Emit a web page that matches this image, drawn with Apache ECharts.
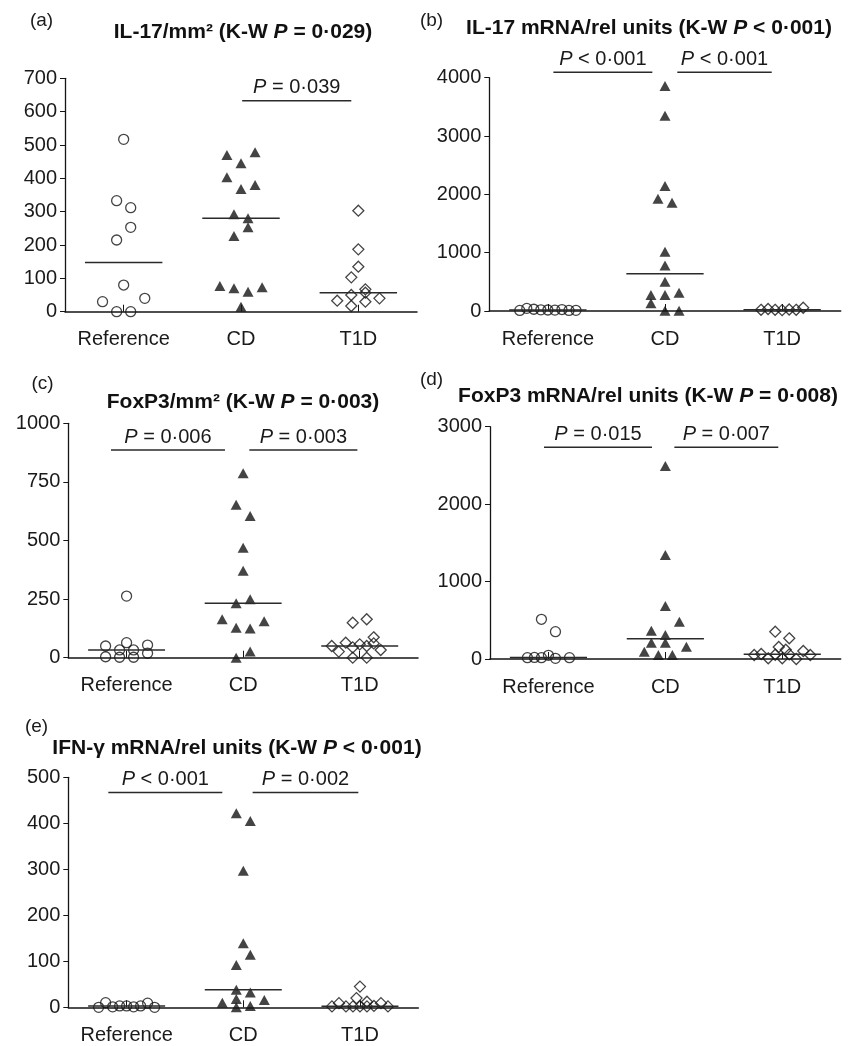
<!DOCTYPE html>
<html>
<head>
<meta charset="utf-8">
<script src="https://cdn.jsdelivr.net/npm/echarts@6/dist/echarts.min.js"></script>
<style>
  html, body { margin: 0; background: #fff; }
  #main { width: 850px; height: 1046px; }
</style>
</head>
<body>
<div id="main"></div>
<script>
// groups on the x axis
const groups = ['Reference', 'CD', 'T1D'];

// (a) IL-17/mm2 — values and jitter slots (side-by-side position of overlapping points)
const aRef = [517, 333, 312, 253, 215, 80, 30, 40, 0, 0];
const aRefJ = [0, -1, 1, 1, -1, 0, -3, 3, -1, 1];
const aCD = [470, 478, 445, 403, 380, 368, 292, 280, 253, 227, 77, 70, 60, 73, 15];
const aCDJ = [-2, 2, 0, -2, 2, 0, -1, 1, 1, -1, -3, -1, 1, 3, 0];
const aT1D = [303, 187, 135, 103, 67, 57, 50, 33, 30, 40, 17];
const aT1DJ = [0, 0, 0, -1, 1, 1, -1, -3, 1, 3, -1];

// (b) IL-17 mRNA
const bRef = [10, 45, 30, 20, 17, 15, 25, 10, 12];
const bRefJ = [-4, -3, -2, -1, 0, 1, 2, 3, 4];
const bCD = [3857, 3349, 2143, 1926, 1857, 1017, 780, 500, 274, 274, 314, 131, 5, 5];
const bCDJ = [0, 0, 0, -1, 1, 0, 0, 0, -2, 0, 2, -2, 0, 2];
const bT1D = [20, 35, 20, 15, 25, 20, 55];
const bT1DJ = [-3, -2, -1, 0, 1, 2, 3];

// (c) FoxP3/mm2
const cRef = [263, 64, 50, 4, 33, 2, 33, 2, 54, 19];
const cRefJ = [0, 0, -3, -3, -1, -1, 1, 1, 3, 3];
const cCD = [787, 652, 605, 469, 371, 232, 249, 164, 156, 128, 125, 26, 0];
const cCDJ = [0, -1, 1, 0, 0, -1, 1, -3, 3, -1, 1, 1, -1];
const cT1D = [149, 164, 87, 64, 57, 50, 61, 26, 33, 0, 0, 44, 50];
const cT1DJ = [-1, 1, 2, -2, 0, -4, 2, -3, 3, -1, 1, -1, 1];

// (d) FoxP3 mRNA
const dRef = [513, 353, 17, 20, 17, 47, 9, 17];
const dRefJ = [-1, 1, -3, -2, -1, 0, 1, 3];
const dCD = [2493, 1343, 684, 482, 366, 310, 211, 211, 159, 94, 52, 52];
const dCDJ = [0, 0, 0, 2, -2, 0, -2, 0, 3, -3, -1, 1];
const dT1D = [353, 267, 155, 120, 65, 52, 55, 60, 103, 52, 9, 9, 0];
const dT1DJ = [-1, 1, -0.5, 0.5, -3, -4, -1, 1, 3, 4, -2, 0, 2];

// (e) IFN-gamma mRNA
const eRef = [0, 10, 1, 3, 3, 1, 3, 9, 0];
const eRefJ = [-4, -3, -2, -1, 0, 1, 2, 3, 4];
const eCD = [422, 405, 297, 139, 114, 92, 38, 32, 18, 10, 16, 3, 0];
const eCDJ = [-1, 1, 0, 0, 1, -1, -1, 1, -1, -3, 3, 1, -1];
const eT1D = [45, 20, 12, 2, 9, 2, 2, 2, 2, 3, 9, 2];
const eT1DJ = [0, -0.5, 1, -4, -3, -2, -1, 0, 1, 2, 3, 4];

// y axis ranges
const yMax = [700, 4000, 1000, 3000, 500];
const yStep = [100, 1000, 250, 1000, 100];

// pairwise tests: [from, to, height, text]
const aTests = [[1.51, 2.44, 633, '= 0·039']];
const bTests = [[0.547, 1.392, 4092, '< 0·001'], [1.605, 2.411, 4092, '< 0·001']];
const cTests = [[0.366, 1.344, 886, '= 0·006'], [1.553, 2.48, 886, '= 0·003']];
const dTests = [[0.462, 1.386, 2734, '= 0·015'], [1.577, 2.466, 2734, '= 0·007']];
const eTests = [[0.343, 1.32, 467, '< 0·001'], [1.58, 2.486, 467, '= 0·002']];

const titles = [
  'IL-17/mm² (K-W {i|P} = 0·029)',
  'IL-17 mRNA/rel units (K-W {i|P} < 0·001)',
  'FoxP3/mm² (K-W {i|P} = 0·003)',
  'FoxP3 mRNA/rel units (K-W {i|P} = 0·008)',
  'IFN-γ mRNA/rel units (K-W {i|P} < 0·001)'
];
const letters = ['(a)', '(b)', '(c)', '(d)', '(e)'];

const panels = [
  { sets: [[aRef, aRefJ], [aCD, aCDJ], [aT1D, aT1DJ]], tests: aTests },
  { sets: [[bRef, bRefJ], [bCD, bCDJ], [bT1D, bT1DJ]], tests: bTests },
  { sets: [[cRef, cRefJ], [cCD, cCDJ], [cT1D, cT1DJ]], tests: cTests },
  { sets: [[dRef, dRefJ], [dCD, dCDJ], [dT1D, dT1DJ]], tests: dTests },
  { sets: [[eRef, eRefJ], [eCD, eCDJ], [eT1D, eT1DJ]], tests: eTests }
];

// layout
const FONT = '"Liberation Sans", Arial, Helvetica, sans-serif';
const INK = '#151515';
const STEP = 0.06;      // one jitter slot, in group units
const HALF = 0.33;      // half width of the median bar
const gridBoxes = [
  { left: 65, top: 78.3, width: 352, height: 233.4 },
  { left: 489.3, top: 77.7, width: 351.4, height: 233.3 },
  { left: 68.3, top: 423.3, width: 349.7, height: 234.4 },
  { left: 490, top: 426.7, width: 350.7, height: 232.3 },
  { left: 68.3, top: 777.3, width: 350, height: 230 }
];
const titlePos = [[243, 32.5], [649, 28.5], [243, 402.5], [648, 396], [237, 748.5]];
const letterPos = [[41.5, 21], [431.5, 20.5], [42.5, 383.5], [431.5, 380], [36.5, 726.5]];

const symbols = [
  { symbol: 'circle', symbolSize: 10, itemStyle: { color: 'rgba(0,0,0,0)', borderColor: INK, borderWidth: 1.3 } },
  { symbol: 'triangle', symbolSize: [11, 10], itemStyle: { color: INK } },
  { symbol: 'diamond', symbolSize: [11, 11], itemStyle: { color: 'rgba(0,0,0,0)', borderColor: INK, borderWidth: 1.3 } }
];

function median(arr) {
  const s = arr.slice().sort((x, y) => x - y);
  const m = Math.floor(s.length / 2);
  return s.length % 2 ? s[m] : (s[m - 1] + s[m]) / 2;
}

const grid = [], xAxis = [], yAxis = [], series = [], graphic = [];

panels.forEach((p, i) => {
  grid.push(gridBoxes[i]);
  xAxis.push({ type: 'value', gridIndex: i, min: 0, max: 3, show: false, position: 'top' });
  xAxis.push({
    type: 'category', gridIndex: i, data: groups, position: 'bottom',
    axisLine: { lineStyle: { color: INK, width: 1.5 } },
    axisTick: { show: true, alignWithLabel: true, inside: true, length: 7, lineStyle: { color: INK } },
    axisLabel: { fontSize: 20, color: '#1a1a1a', margin: 18, interval: 0, fontFamily: FONT }
  });
  yAxis.push({
    type: 'value', gridIndex: i, min: 0, max: yMax[i], interval: yStep[i],
    axisLine: { show: true, lineStyle: { color: INK, width: 1.3 } },
    axisTick: { show: true, length: 5, lineStyle: { color: INK } },
    axisLabel: { fontSize: 20, color: '#1a1a1a', margin: 8, fontFamily: FONT, formatter: v => String(v) },
    splitLine: { show: false }
  });

  p.sets.forEach(([vals, jit], g) => {
    series.push(Object.assign({
      type: 'scatter', name: groups[g], xAxisIndex: 2 * i, yAxisIndex: i,
      clip: false, silent: true, z: 3,
      data: vals.map((v, k) => [g + 0.5 + jit[k] * STEP, v])
    }, symbols[g]));
  });

  // medians and test brackets
  const items = p.sets.map(([vals], g) => ({ kind: 'median', g: g, v: median(vals) }))
    .concat(p.tests.map(t => ({ kind: 'test', x1: t[0], x2: t[1], v: t[2], text: t[3] })));
  series.push({
    type: 'custom', xAxisIndex: 2 * i, yAxisIndex: i, clip: false, silent: true, z: 4,
    data: items.map(it => [it.kind === 'median' ? it.g + 0.5 : it.x1, it.v]),
    renderItem: function (params, api) {
      const it = items[params.dataIndex];
      if (it.kind === 'median') {
        const p1 = api.coord([it.g + 0.5 - HALF, it.v]);
        const p2 = api.coord([it.g + 0.5 + HALF, it.v]);
        return { type: 'line', shape: { x1: p1[0], y1: p1[1], x2: p2[0], y2: p2[1] },
          style: { stroke: '#2a2a2a', lineWidth: 1.5 } };
      }
      const p1 = api.coord([it.x1, it.v]);
      const p2 = api.coord([it.x2, it.v]);
      return {
        type: 'group',
        children: [
          { type: 'line', shape: { x1: p1[0], y1: p1[1], x2: p2[0], y2: p2[1] },
            style: { stroke: '#2a2a2a', lineWidth: 1.5 } },
          { type: 'text', x: (p1[0] + p2[0]) / 2, y: p1[1] - 3,
            style: {
              text: '{i|P} ' + it.text, fill: '#1a1a1a', fontSize: 20, fontFamily: FONT,
              align: 'center', verticalAlign: 'bottom', textAlign: 'center', textVerticalAlign: 'bottom',
              rich: { i: { fontStyle: 'italic', fontSize: 20, fontFamily: FONT, fill: '#1a1a1a' } }
            } }
        ]
      };
    }
  });

  graphic.push({
    type: 'text', x: titlePos[i][0], y: titlePos[i][1],
    style: {
      text: titles[i], fill: '#111', fontSize: 21, fontWeight: 'bold', fontFamily: FONT,
      align: 'center', verticalAlign: 'middle', textAlign: 'center', textVerticalAlign: 'middle',
      rich: { i: { fontStyle: 'italic', fontWeight: 'bold', fontSize: 21, fontFamily: FONT, fill: '#111' } }
    }
  });
  graphic.push({
    type: 'text', x: letterPos[i][0], y: letterPos[i][1],
    style: {
      text: letters[i], fill: '#1a1a1a', fontSize: 19, fontFamily: FONT,
      align: 'center', verticalAlign: 'middle', textAlign: 'center', textVerticalAlign: 'middle'
    }
  });
});

const chart = echarts.init(document.getElementById('main'));
chart.setOption({
  animation: false,
  backgroundColor: '#fff',
  textStyle: { fontFamily: FONT },
  grid: grid,
  xAxis: xAxis,
  yAxis: yAxis,
  series: series,
  graphic: graphic
});
</script>
</body>
</html>
